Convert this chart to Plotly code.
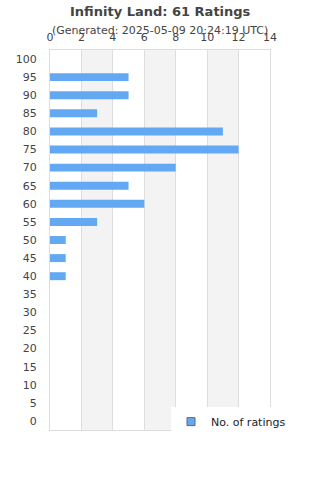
import plotly.graph_objects as go

scores = [0, 5, 10, 15, 20, 25, 30, 35, 40, 45, 50, 55, 60, 65, 70, 75, 80, 85, 90, 95, 100]
counts = [0, 0, 0, 0, 0, 0, 0, 0, 1, 1, 1, 3, 6, 5, 8, 12, 11, 3, 5, 5, 0]
x_ticks = [0, 2, 4, 6, 8, 10, 12, 14]
bands = [(2, 4), (6, 8), (10, 12)]

title = "Infinity Land: 61 Ratings"
subtitle = "(Generated: 2025-05-09 20:24:19 UTC)"
series_name = "No. of ratings"
bar_color = "#62a8f3"

fig = go.Figure()
fig.add_trace(go.Bar(
    x=counts, y=scores, orientation="h", name=series_name,
    width=2.2, marker=dict(color=bar_color, line=dict(width=0)),
    showlegend=False,
))
# legend entry (small bordered square like the reference)
fig.add_trace(go.Scatter(
    x=[None], y=[None], mode="markers", name=series_name,
    marker=dict(symbol="square", size=8, color=bar_color,
                line=dict(color="#666666", width=1)),
    showlegend=True,
))

for a, b in bands:
    fig.add_shape(type="rect", xref="x", yref="paper", x0=a, x1=b, y0=0, y1=1,
                  fillcolor="#f3f3f3", line=dict(width=0), layer="below")

fig.update_layout(
    width=320, height=480,
    margin=dict(l=50, r=50, t=50, b=50),
    paper_bgcolor="white", plot_bgcolor="white",
    font=dict(family="DejaVu Sans", color="#444", size=11),
    xaxis=dict(range=[0, 14], side="top", tickvals=x_ticks, showgrid=True,
               gridcolor="#dddddd", gridwidth=1, zeroline=False,
               showline=True, linecolor="#dddddd", mirror=True,
               tickfont=dict(size=11, color="#444"), ticklabelstandoff=4),
    yaxis=dict(range=[-2.5, 102.5], tickvals=scores, showgrid=False,
               zeroline=False, showline=True, linecolor="#dddddd", mirror=True,
               tickfont=dict(size=11, color="#444"), ticklabelstandoff=10),
    showlegend=True,
    legend=dict(x=0.55, y=0.022, xanchor="left", yanchor="middle",
                bgcolor="white", font=dict(size=11, color="#222"),
                itemwidth=30),
    annotations=[
        dict(text="<b>" + title + "</b>", x=0.5, y=(430 - 11) / 380, xref="paper", yref="paper",
             showarrow=False, font=dict(size=13, color="#444"), xanchor="center", yanchor="middle"),
        dict(text=subtitle, x=0.5, y=(430 - 30) / 380, xref="paper", yref="paper",
             showarrow=False, font=dict(size=11, color="#444"), xanchor="center", yanchor="middle"),
    ],
)

fig.write_html("out.html")
